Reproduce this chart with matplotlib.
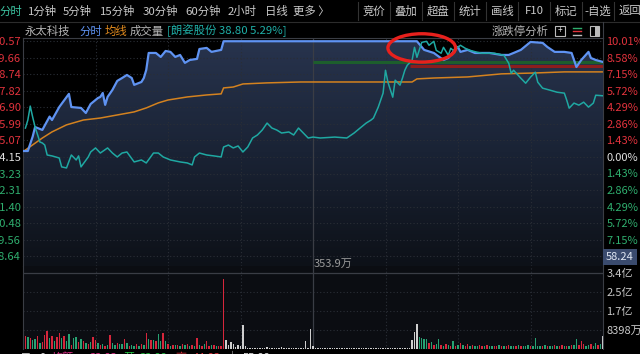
import numpy as np
import matplotlib
matplotlib.use("Agg")
import matplotlib.pyplot as plt
from matplotlib.colors import LinearSegmentedColormap
from matplotlib.patches import Ellipse, Rectangle
from matplotlib.lines import Line2D

plt.rcParams['font.family'] = ['Noto Sans CJK SC', 'DejaVu Sans']

# ---------------- data ----------------
prev_close = 64.15
price_ticks = [70.57, 69.66, 68.74, 67.82, 66.90, 65.99, 65.07, 64.15,
               63.23, 62.31, 61.40, 60.48, 59.56, 58.64]
pct_ticks = [10.01, 8.58, 7.15, 5.72, 4.29, 2.86, 1.43, 0.00,
             -1.43, -2.86, -4.29, -5.72, -7.15]

# 永太科技 minute price (minute index, price)
blue_min = [0, 2, 4, 5, 8, 11, 12, 15, 19, 20, 24, 26, 28, 31, 32, 33, 34, 35, 37, 39,
            41, 43, 45, 46, 49, 50, 51, 52, 55, 57, 59, 61, 63, 65, 67, 69, 72, 73, 76, 78,
            82, 83, 163, 166, 170, 174, 176, 178, 180, 181, 184, 187, 193, 198, 201, 203, 206, 210, 215, 217,
            220, 224, 227, 229, 231, 234, 235, 237, 240]
blue_price = [64.48, 64.48, 65.28, 65.81, 65.65, 66.39, 66.20, 66.92, 67.65, 66.92,
              66.87, 66.59, 67.09, 67.42, 67.48, 67.70, 67.04, 67.48, 67.87, 68.37,
              68.53, 68.70, 68.53, 68.15, 68.31, 68.53, 68.98, 69.92, 69.92, 69.70,
              70.03, 69.98, 69.70, 69.81, 69.37, 69.53, 69.59, 70.14, 70.20, 69.98,
              70.09, 70.57, 70.57, 70.09, 69.92, 69.53, 69.64, 69.98, 70.25, 69.98,
              70.09, 69.92, 69.92, 69.81, 69.81, 69.92, 70.09, 70.53, 70.48, 70.25,
              69.98, 69.98, 69.92, 69.14, 69.53, 69.98, 69.64, 69.53, 69.42]

# 均线 (average price)
avg_min = [0, 4, 8, 12, 18, 25, 32, 39, 46, 51, 56, 60, 68, 76, 82, 83, 87, 91, 101, 115,
           161, 163, 170, 184, 198, 212, 224, 240]
avg_price = [64.44, 64.82, 65.20, 65.54, 65.93, 66.20, 66.31, 66.48, 66.65, 66.87,
             67.15, 67.31, 67.48, 67.59, 67.65, 67.98, 68.03, 68.20, 68.26, 68.31,
             68.31, 68.48, 68.53, 68.59, 68.76, 68.81, 68.87, 68.87]

# 朗姿股份 overlay (percent change)
teal_min = [1, 2, 3, 4, 5, 7, 8, 9, 10, 12, 15, 16, 18, 20, 22, 23, 24, 27, 28, 30,
            32, 35, 37, 39, 41, 43, 46, 49, 51, 54, 56, 58, 61, 65, 68, 70, 71, 73, 76, 79,
            82, 83, 85, 87, 89, 91, 93, 95, 97, 99, 101, 103, 105, 107, 110, 112, 114, 116, 118, 120,
            123, 129, 134, 137, 140, 142, 144, 145, 147, 149, 150, 151, 153, 154, 156, 157, 158, 159, 161, 162,
            163, 165, 167, 168, 170, 171, 173, 174, 176, 177, 178, 180, 181, 183, 185, 188, 190, 195, 199, 201,
            202, 203, 206, 208, 210, 212, 213, 215, 218, 221, 224, 225, 226, 228, 230, 232, 234, 236, 237, 240]
teal_pct = [2.50, 3.19, 4.40, 3.45, 2.59, 1.29, 1.21, 1.03, 0.17, 0.09, -0.09, -0.86, -0.95, 0.17, -0.26, 0.09, -0.86, 0.00, 0.43, 0.78,
            0.34, 0.78, 0.34, 0.00, 0.34, 0.43, -0.43, -0.26, -0.52, 0.34, 0.34, 0.00, -0.26, -0.43, -0.52, -0.69, 0.00, 0.34, 0.17, 0.09,
            0.00, 0.86, 1.03, 0.78, 0.95, 0.43, 0.86, 1.64, 1.90, 2.33, 2.93, 2.50, 2.33, 2.07, 2.16, 1.90, 2.50, 2.07, 1.64, 1.72,
            1.64, 1.72, 1.64, 2.07, 2.59, 2.93, 3.19, 3.36, 4.31, 5.52, 7.50, 6.47, 5.17, 6.64, 6.21, 6.81, 7.50, 7.93, 8.36, 9.48,
            8.62, 9.91, 10.00, 9.66, 10.00, 9.22, 8.97, 9.48, 8.79, 9.40, 9.22, 9.48, 9.66, 9.40, 9.22, 9.05, 8.97, 8.97, 8.79, 8.10,
            7.24, 7.50, 6.81, 6.38, 6.90, 7.33, 6.47, 5.95, 5.78, 5.60, 5.52, 4.91, 4.22, 4.66, 4.48, 4.74, 4.31, 4.66, 5.34, 5.29]

# 涨跌停分析 reference levels
green_level = 69.42
green_from = 120
red_level = 69.20
red_from = 160

# volume per minute (万元) and direction R/G/W
volume = [
    # morning 0-82
    9850, 5880, 5150, 4850, 3970, 4410, 5880, 2500, 2940, 6320,
    8090, 4850, 5880, 3680, 5440, 7060, 4850, 5590, 3680, 6620,
    1760,
    4850, 5440, 2940, 4410, 3380, 2500, 2210, 2940, 5440, 3970,
    2500, 1910, 2210, 1470, 1760, 6320, 2500, 1760, 2790, 2210,
    2060,
    4410, 2500, 1470, 1910, 1470, 2210, 1470, 2210, 1760, 7200,
    4410, 3970, 3970, 3380, 6620, 3680, 7200, 3380, 2210, 1470,
    1620,
    1760, 1910, 1470, 2210, 1620, 2210, 1470, 1910, 1320, 4850,
    1620, 1470, 2210, 3380, 1470, 1620, 1620, 1320, 1470,
    1470,
    # limit-up period 83-163
    31160,
    3970, 1910, 2940, 2210, 740, 1910, 1320, 10730, 1320,
    590, 440, 440, 590, 440, 440, 590, 440, 740, 440, 440, 590,
    440, 440, 880, 440, 440, 590, 440, 440, 590, 440, 440, 590,
    3380, 590, 8670, 1470,
    440, 440, 590, 440, 440, 440, 590, 440, 440, 440,
    590, 440, 440, 440, 440, 590, 440, 440, 440, 590,
    440, 440, 440, 590, 440, 440, 440, 440, 590, 440,
    440, 440, 590, 440, 440, 440, 590, 440, 440, 590,
    3970, 7500, 11030,
    # afternoon 164-240
    5440, 4850, 4410, 4410, 2500, 2940, 1760, 2210, 4410, 1910,
    1470, 2210, 1760, 1470, 3680, 1470, 1760, 2650, 1760, 1470,
    2210, 1180, 1760, 1470, 1320, 1760, 1470, 1180, 1760, 1470,
    1320, 1180, 1470, 1760, 1180, 1320, 1470, 1620, 1180, 1320,
    1470, 1760, 1180, 1320, 1470, 1760, 1470, 1320, 4850, 1470,
    1470, 1320, 1760, 1180, 1470, 1320, 1620, 1180, 1470, 1760,
    1320, 1470, 1180, 1760, 1620, 4410, 1760, 3680, 2210, 1470,
    1760, 2210, 1470, 2650, 1760, 2210, 5880,
]
direction = ("RRGRGGRGRR" "RGRGRRGRGG" "R" "GGRGRGRGRR" "GRGRGRGGRG" "G"
             "RGRGGRGRGR" "GRGRGGRGRG" "R" "GRGRGRGRGR" "GRGRRGRGR" "R"
             "R"
             "WWWWWWWWWW" "WWWWWWWWWW" "WWWWWWWWWW" "WWWWWWWWWW"
             "WWWWWWWWWW" "WWWWWWWWWW" "WWWWWWWWWW" "WWWWWWWWWW"
             "GGGGRGRGGR" "GRGRGRGRGR" "RGRGGRRGRG" "GRRGRGRRGG"
             "RGRGGGRGGG" "GRGRGGRGRR" "GRGRGGRRRG" "GRGGRGW")
vol_ticks = [8398, 16796, 25194, 33592]
vol_tick_labels = ["8398万", "1.7亿", "2.5亿", "3.4亿"]

# ---------------- styling helpers ----------------
W, H = 640, 354
def fx(x): return x / W
def fy(y): return 1 - y / H

RED = '#e2333d'
GRN = '#2fae6e'
GRAY_TXT = '#c9c9c9'
GRID = '#2a2e36'
BORDER = '#3a3d44'

fig = plt.figure(figsize=(6.4, 3.54), dpi=100, facecolor='black')

# ---------------- price panel ----------------
ax = fig.add_axes([fx(23), fy(266), 580 / W, 228 / H])
ax.set_facecolor('black')
ylo, yhi = 58.10, 70.75
x_all = np.arange(241)

poly = ax.fill_between(blue_min, blue_price, ylo, color='none', lw=0)
cmap = LinearSegmentedColormap.from_list('g', ['#0d1118', '#1a2335', '#28344e'])
grad = np.linspace(0, 1, 256).reshape(-1, 1)
im = ax.imshow(grad, extent=[0, 240, ylo, yhi], origin='lower', aspect='auto',
               cmap=cmap, zorder=0.5, interpolation='bilinear')
im.set_clip_path(poly.get_paths()[0], transform=ax.transData)

for t in price_ticks:
    ax.axhline(t, color=GRID, lw=0.8, ls=(0, (1, 2)), zorder=0.8)
for m in [30, 60, 90, 150, 180, 210]:
    ax.axvline(m, color=GRID, lw=0.8, ls=(0, (1, 2)), zorder=0.8)
ax.axvline(120, color='#3a3d45', lw=0.9, zorder=0.8)

ax.hlines(green_level, green_from, 240, color='#1d5e2c', lw=2.2, zorder=1)
ax.hlines(red_level, red_from, 240, color='#8c1d1d', lw=2.2, zorder=1)

ax.plot(avg_min, avg_price, color='#d4821f', lw=1.1, zorder=2)
ax.plot(blue_min, blue_price, color='#5f93f2', lw=1.6, zorder=3)

ax.set_xlim(0, 240)
ax.set_ylim(ylo, yhi)
ax.set_xticks([])
ax.set_yticks(price_ticks)
ax.set_yticklabels([f"{v:.2f}" for v in price_ticks])
ax.tick_params(axis='y', length=0, pad=1.5, labelsize=8)
for lab, v in zip(ax.get_yticklabels(), price_ticks):
    lab.set_color(RED if v > prev_close + 1e-6 else (GRN if v < prev_close - 1e-6 else '#e0e0e0'))
ax.spines['bottom'].set_visible(False)
for s in ['left', 'right', 'top']:
    ax.spines[s].set_color(BORDER)
    ax.spines[s].set_linewidth(0.8)

ax2 = ax.twinx()
ax2.set_ylim((ylo / prev_close - 1) * 100, (yhi / prev_close - 1) * 100)
ax2.plot(teal_min, teal_pct, color='#1fa8a2', lw=1.1, zorder=4)
ax2.set_yticks(pct_ticks)
ax2.set_yticklabels([f"{abs(v):.2f}%" for v in pct_ticks])
ax2.tick_params(axis='y', length=0, pad=2.5, labelsize=8)
for lab, v in zip(ax2.get_yticklabels(), pct_ticks):
    lab.set_color(RED if v > 0 else (GRN if v < 0 else '#e0e0e0'))
for s in ax2.spines.values():
    s.set_visible(False)
ell = Ellipse((165, (70.20 / prev_close - 1) * 100), width=28, height=2.45,
              fill=False, ec='#e8211d', lw=2.4, clip_on=False, zorder=10)
ax2.add_patch(ell)

# ---------------- volume panel ----------------
vax = fig.add_axes([fx(23), fy(349), 580 / W, 83 / H])
vax.set_facecolor('#0b0d12')
cmap_dir = {'R': '#d6263b', 'G': '#27a272', 'W': '#cfcfcf'}
vax.bar(x_all, volume, width=0.6, color=[cmap_dir[c] for c in direction], lw=0, zorder=2)
for i, t in enumerate(vol_ticks):
    if i == len(vol_ticks) - 1:
        vax.axhline(t, color='#3a3d45', lw=0.9, zorder=1)
    else:
        vax.axhline(t, color=GRID, lw=0.8, ls=(0, (1, 2)), zorder=1)
for m in [30, 60, 90, 150, 180, 210]:
    vax.axvline(m, color=GRID, lw=0.8, ls=(0, (1, 2)), zorder=1)
vax.axvline(120, color='#3a3d45', lw=0.9, zorder=1)
vax.set_xlim(0, 240)
vax.set_ylim(0, 36700)
vax.set_xticks([])
vax.yaxis.tick_right()
vax.set_yticks(vol_ticks)
vax.set_yticklabels(vol_tick_labels)
vax.tick_params(axis='y', length=0, pad=2.5, labelsize=8, labelcolor=GRAY_TXT)
for s in ['top', 'bottom']:
    vax.spines[s].set_visible(False)
for s in ['left', 'right']:
    vax.spines[s].set_color(BORDER)
    vax.spines[s].set_linewidth(0.8)
fig.text(fx(314), fy(263.5), "353.9万", color='#9a9a9a', fontsize=8,
         va='center', ha='left', zorder=5)

# ---------------- toolbar ----------------
fig.add_artist(Line2D([0, 1], [fy(21.5), fy(21.5)], color='#2c2c2c', lw=0.8))
fig.add_artist(Line2D([fx(603), fx(603)], [fy(21.5), fy(38)], color=BORDER, lw=0.8))
fig.text(fx(-1), fy(11), "分时", color='#3cc2a0', fontsize=8.2, va='center', ha='left')
tabs = [("1分钟", 28), ("5分钟", 63), ("15分钟", 100), ("30分钟", 143), ("60分钟", 185),
        ("2小时", 228), ("日线", 265), ("更多 〉", 293)]
for s, x in tabs:
    fig.text(fx(x), fy(11), s, color=GRAY_TXT, fontsize=8.2, va='center', ha='left')
buttons = [("竞价", 374), ("叠加", 406), ("超盘", 438), ("统计", 470), ("画线", 502),
           ("F10", 534), ("标记", 566), ("-自选", 598), ("返回", 630)]
for s, x in buttons:
    fig.text(fx(x), fy(11), s, color=GRAY_TXT, fontsize=8.2, va='center', ha='center')
for x in [358, 390, 422, 454, 486, 518, 550, 582, 614]:
    fig.add_artist(Line2D([fx(x), fx(x)], [fy(2), fy(20)], color='#333333', lw=0.8))

# second row
fig.text(fx(25), fy(31), "永太科技", color='#b4b4b4', fontsize=8.2, va='center', ha='left')
fig.text(fx(79), fy(31), "分时", color='#5f93f2', fontsize=8.2, va='center', ha='left')
fig.text(fx(105), fy(31), "均线", color='#e08a1e', fontsize=8.2, va='center', ha='left')
fig.text(fx(130), fy(31), "成交量", color='#b4b4b4', fontsize=8.2, va='center', ha='left')
fig.text(fx(167), fy(31), "[朗姿股份 38.80 5.29%]", color='#1fb0a8', fontsize=8.2,
         va='center', ha='left')
fig.text(fx(492), fy(31), "涨跌停分析", color='#b4b4b4', fontsize=8.2, va='center', ha='left')
fig.add_artist(Rectangle((fx(555), fy(36)), 10 / W, 10 / H, fill=False, ec='#bbbbbb', lw=0.8))
fig.text(fx(560), fy(31), "+", color='#dddddd', fontsize=6, va='center', ha='center')
for yy, cc in [(27.5, '#2fae6e'), (31, '#e2333d'), (34.5, '#bbbbbb')]:
    fig.add_artist(Line2D([fx(573), fx(581)], [fy(yy), fy(yy)], color=cc, lw=1.0))
fig.add_artist(Rectangle((fx(590), fy(36)), 9 / W, 10 / H, fill=False, ec='#bbbbbb', lw=0.8))
fig.add_artist(Rectangle((fx(595), fy(36)), 4 / W, 10 / H, fill=True, fc='#bbbbbb', lw=0))

# crosshair price box
fig.text(fx(606), fy(257), "58.24", color='#dfe6f2', fontsize=8, va='center', ha='left',
         bbox=dict(boxstyle='square,pad=0.25', fc='#3a4b6e', ec='none'), zorder=20)

# bottom status strip (mostly cut off)
fig.add_artist(Rectangle((0, 0), 1, fy(349.5), fc='black', ec='none', zorder=30))
status = [("⊤", 20, '#dddddd'), ("0", 40, '#dddddd'), ("均额", 52, '#e0308a'),
          ("33.83", 90, '#e0308a'), ("开", 123, '#22c040'), ("33.88", 140, '#22c040'),
          ("高", 175, '#e2333d'), ("44.83", 193, '#e2333d'), ("┴", 227, '#dddddd'),
          ("55.88", 243, '#dddddd')]
for s, x, c in status:
    fig.text(fx(x), fy(358), s, color=c, fontsize=8, va='center', ha='left', zorder=31)

fig.savefig("out.png", dpi=100, facecolor='black')
